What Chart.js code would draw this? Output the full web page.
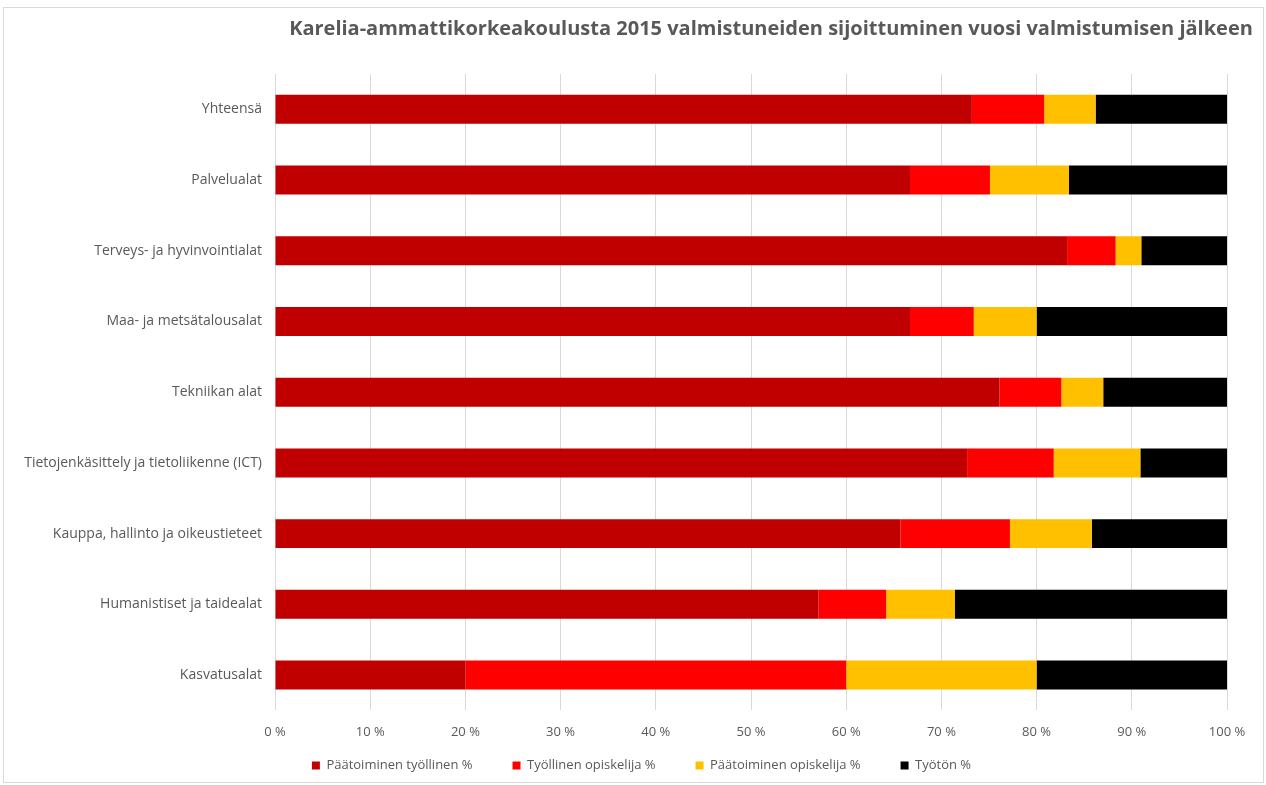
<!DOCTYPE html>
<html>
<head>
<meta charset="utf-8">
<script src="https://cdn.jsdelivr.net/npm/chart.js@4.4.0/dist/chart.umd.min.js"></script>
<style>
  html, body { margin: 0; padding: 0; background: #fff; }
  #wrap { position: relative; width: 1266px; height: 785px; }
</style>
</head>
<body>
<div id="wrap"><canvas id="c" width="1266" height="785"></canvas></div>
<script>
const titleText = 'Karelia-ammattikorkeakoulusta 2015 valmistuneiden sijoittuminen vuosi valmistumisen jälkeen';
const categories = [
  'Yhteensä',
  'Palvelualat',
  'Terveys- ja hyvinvointialat',
  'Maa- ja metsätalousalat',
  'Tekniikan alat',
  'Tietojenkäsittely ja tietoliikenne (ICT)',
  'Kauppa, hallinto ja oikeustieteet',
  'Humanistiset ja taidealat',
  'Kasvatusalat'
];
const seriesNames = ['Päätoiminen työllinen %', 'Työllinen opiskelija %', 'Päätoiminen opiskelija %', 'Työtön %'];
const paatoiminenTyollinen = [73.2, 66.7, 83.2, 66.7, 76.1, 72.7, 65.7, 57.1, 20.0];
const tyollinenOpiskelija  = [7.6, 8.4, 5.1, 6.7, 6.5, 9.1, 11.5, 7.1, 40.0];
const paatoiminenOpiskelija = [5.4, 8.3, 2.7, 6.6, 4.4, 9.1, 8.6, 7.2, 20.0];
const tyoton               = [13.8, 16.6, 9.0, 20.0, 13.0, 9.1, 14.2, 28.6, 20.0];
const seriesColors = ['#C00000', '#FF0000', '#FFC000', '#000000'];
const xTicks = [0, 10, 20, 30, 40, 50, 60, 70, 80, 90, 100];

const FONT = "'Open Sans', 'Liberation Sans', Arial, sans-serif";
const GREY = '#595959';
const LEGEND_SHIFT_Y = 35;
const LEGEND_SHIFT_X = 28;

const frameAndTitle = {
  id: 'frameAndTitle',
  beforeDraw(chart) {
    const ctx = chart.ctx;
    ctx.save();
    ctx.fillStyle = '#fff';
    ctx.fillRect(0, 0, chart.width, chart.height);
    ctx.strokeStyle = '#d9d9d9';
    ctx.lineWidth = 1;
    ctx.strokeRect(3.5, 7.5, chart.width - 6, chart.height - 10);
    ctx.restore();
  },
  afterDraw(chart) {
    const ctx = chart.ctx;
    ctx.save();
    ctx.font = "bold 20px " + FONT;
    ctx.fillStyle = GREY;
    ctx.textAlign = 'center';
    ctx.textBaseline = 'middle';
    ctx.fillText(titleText, 771, 29);
    ctx.restore();
  }
};

const dataArrays = [paatoiminenTyollinen, tyollinenOpiskelija, paatoiminenOpiskelija, tyoton];

const chart = new Chart(document.getElementById('c'), {
  type: 'bar',
  data: {
    labels: categories,
    datasets: dataArrays.map((arr, i) => ({
      label: seriesNames[i],
      data: arr,
      backgroundColor: seriesColors[i],
      borderWidth: 0,
      categoryPercentage: 1.0,
      barPercentage: 0.41
    }))
  },
  options: {
    responsive: false,
    animation: false,
    indexAxis: 'y',
    layout: { padding: { top: 74, right: 39, bottom: 3, left: 0 } },
    plugins: {
      title: { display: false },
      tooltip: { enabled: false },
      legend: {
        position: 'bottom',
        labels: {
          font: { family: FONT, size: 13 },
          color: GREY,
          boxWidth: 8,
          boxHeight: 8,
          padding: 40
        }
      }
    },
    scales: {
      x: {
        stacked: true,
        min: 0,
        max: 100,
        afterBuildTicks(scale) { scale.ticks = xTicks.map(v => ({ value: v })); },
        ticks: {
          font: { family: FONT, size: 13 },
          color: GREY,
          padding: 14,
          callback: v => v + ' %'
        },
        grid: { color: '#d9d9d9', drawTicks: false },
        border: { display: false }
      },
      y: {
        stacked: true,
        afterFit(scale) { scale.width = 275; },
        ticks: {
          font: { family: FONT, size: 14 },
          color: GREY,
          padding: 13
        },
        grid: { display: false, drawTicks: false },
        border: { display: false }
      }
    }
  },
  plugins: [frameAndTitle]
});

// Legend keeps wide horizontal spacing but a compact vertical box.
const lg = chart.legend;
if (lg) {
  const origFit = lg.fit;
  lg.fit = function () {
    origFit.call(this);
    this.height = Math.max(0, this.height - LEGEND_SHIFT_Y);
  };
  const origDraw = lg.draw;
  lg.draw = function () {
    const t = this.top, l = this.left, r = this.right;
    this.top = t - LEGEND_SHIFT_Y;
    this.left = l + LEGEND_SHIFT_X;
    this.right = r + LEGEND_SHIFT_X;
    origDraw.apply(this, arguments);
    this.top = t; this.left = l; this.right = r;
  };
  chart.update();
}
</script>
</body>
</html>
